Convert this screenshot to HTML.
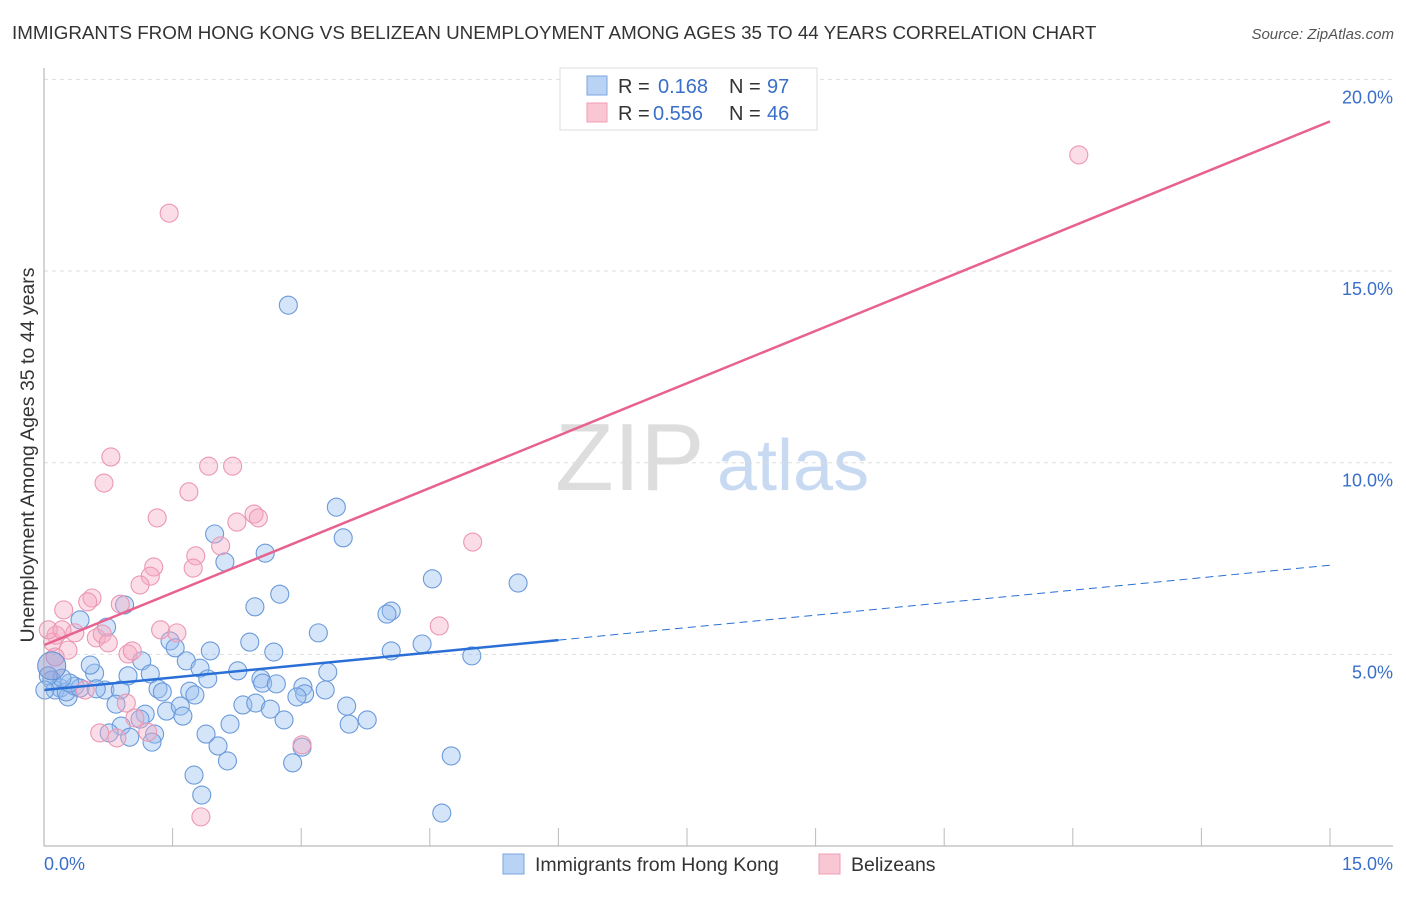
<!DOCTYPE html>
<html><head><meta charset="utf-8"><style>
body{margin:0;background:#fff;font-family:"Liberation Sans",sans-serif}
svg text{font-family:"Liberation Sans",sans-serif}
</style></head><body>
<svg id="c" width="1406" height="892" xmlns="http://www.w3.org/2000/svg">
<text x="12" y="39" font-size="18.8" fill="#333">IMMIGRANTS FROM HONG KONG VS BELIZEAN UNEMPLOYMENT AMONG AGES 35 TO 44 YEARS CORRELATION CHART</text>
<text x="1394" y="39" font-size="15" fill="#555" font-style="italic" text-anchor="end">Source: ZipAtlas.com</text>
<g><text x="555" y="490" font-size="96" fill="#ddd" font-family="Liberation Serif,serif">ZIP</text><text x="717" y="490" font-size="72" fill="#c8daf2">atlas</text></g>
<g id="grid"></g><g id="pts"></g><g id="lines"></g>
<line x1="44" y1="68" x2="44" y2="846" stroke="#aaa"/>
<line x1="44" y1="846" x2="1393" y2="846" stroke="#aaa"/>
<text transform="translate(34,455) rotate(-90)" font-size="19.5" fill="#333" text-anchor="middle">Unemployment Among Ages 35 to 44 years</text>
<text x="44" y="870" font-size="18" fill="#3a6fc9">0.0%</text>
<text x="1393" y="870" font-size="18" fill="#3a6fc9" text-anchor="end">15.0%</text>
<g>
<rect x="560" y="68" width="257" height="62" fill="#fff" stroke="#ddd"/>
<rect x="587" y="76" width="20" height="19" fill="#b9d3f5" stroke="#7aa6e0"/>
<rect x="587" y="103" width="20" height="19" fill="#f9c6d4" stroke="#ef9db5"/>
<text x="618" y="93" font-size="20" fill="#333">R =</text><text x="658" y="93" font-size="20" fill="#3a6fc9">0.168</text>
<text x="729" y="93" font-size="20" fill="#333">N =</text><text x="767" y="93" font-size="20" fill="#3a6fc9">97</text>
<text x="618" y="120" font-size="20" fill="#333">R =</text><text x="653" y="120" font-size="20" fill="#3a6fc9">0.556</text>
<text x="729" y="120" font-size="20" fill="#333">N =</text><text x="767" y="120" font-size="20" fill="#3a6fc9">46</text>
</g>
<g>
<rect x="503" y="854" width="21" height="20" fill="#b9d3f5" stroke="#7aa6e0"/>
<text x="535" y="871" font-size="19.5" fill="#333">Immigrants from Hong Kong</text>
<rect x="819" y="854" width="21" height="20" fill="#f9c6d4" stroke="#ef9db5"/>
<text x="851" y="871" font-size="19.5" fill="#333">Belizeans</text>
</g>
</svg>
<script>
const yTicks=[5,10,15,20];
const yTickLabels=["5.0%","10.0%","15.0%","20.0%"];
const xTicks=[0,1.5,3,4.5,6,7.5,9,10.5,12,13.5,15];
const blueX=[2.85,3.41,3.49,1.99,2.58,2.11,4.53,5.53,2.75,2.46,4.05,4.0,0.94,0.73,0.42,3.2,4.41,2.40,2.68,4.05,4.99,1.47,1.53,1.94,1.66,1.82,1.14,2.26,3.31,2.53,2.55,2.71,1.91,0.98,1.24,0.59,0.54,0.71,0.89,1.33,1.38,1.70,1.76,3.02,3.04,2.95,3.28,2.32,2.47,2.64,3.53,0.84,1.43,1.59,1.62,1.18,1.12,2.17,2.80,3.56,3.77,0.90,1.29,1.00,0.76,1.26,1.89,2.03,3.01,2.14,2.90,4.75,1.75,1.84,4.64,0.09,0.19,0.13,0.28,0.26,0.36,0.42,0.30,0.21,0.05,0.01,0.61];
const blueY=[14.11,8.84,8.04,8.14,7.64,7.41,6.97,6.86,6.57,6.24,6.13,6.05,6.29,5.71,5.9,5.56,5.27,5.32,5.06,5.09,4.96,5.35,5.17,5.09,4.83,4.64,4.83,4.57,4.54,4.36,4.25,4.23,4.36,4.44,4.49,4.51,4.72,4.07,4.07,4.1,4.02,4.04,3.94,4.15,3.97,3.89,4.07,3.68,3.73,3.57,3.65,3.70,3.52,3.65,3.39,3.44,3.31,3.18,3.29,3.18,3.29,3.13,2.92,2.84,2.95,2.71,2.92,2.61,2.58,2.22,2.17,2.35,1.85,1.33,0.86,4.33,4.12,4.07,3.89,4.02,4.17,4.12,4.25,4.38,4.44,4.07,4.1];
const pinkX=[12.07,1.46,0.78,1.92,2.20,0.70,1.69,1.32,2.45,2.50,2.25,2.06,5.0,1.77,1.74,1.28,1.24,1.12,0.56,0.51,0.23,0.89,4.61,1.36,1.55,0.61,0.68,0.75,0.36,0.14,0.10,0.05,0.21,0.28,0.13,0.98,1.03,0.48,0.96,1.06,1.21,0.65,0.85,3.01,1.83];
const pinkY=[18.03,16.51,10.15,9.91,9.91,9.47,9.24,8.56,8.66,8.56,8.45,7.83,7.93,7.57,7.25,7.28,7.04,6.81,6.47,6.37,6.16,6.31,5.74,5.64,5.56,5.43,5.53,5.30,5.56,5.50,5.32,5.64,5.64,5.11,4.93,5.01,5.09,4.07,3.73,3.34,2.97,2.95,2.82,2.64,0.76];
const blueTrend=[4.07,0.217];
const pinkTrend=[5.24,0.911];
const NS="http://www.w3.org/2000/svg";
const X=v=>44+v*(1286/15), Y=v=>846-v*38.33;
function mk(t,a,p){const e=document.createElementNS(NS,t);for(const k in a)e.setAttribute(k,a[k]);document.getElementById(p).appendChild(e);return e;}
yTicks.forEach((t,i)=>{
 const l=mk('line',{x1:44,x2:1393,y1:Y(t),y2:Y(t),stroke:'#ddd','stroke-dasharray':'4,4'},'grid');
 
 
 const tx=mk('text',{x:1393,y:Y(t)+24,'font-size':18,fill:'#3a6fc9','text-anchor':'end'},'grid');
 tx.textContent=yTickLabels[i];
 
 
});
xTicks.forEach(t=>{
 const l=mk('line',{x1:X(t),x2:X(t),y1:828,y2:846,stroke:'#bbb'},'grid');
 
 
});
blueX.forEach((v,i)=>{
 const c=mk('circle',{cx:X(v),cy:Y(blueY[i]),r:9,fill:'rgba(150,190,240,0.4)',stroke:'#6b9ada','stroke-width':1.1},'pts');
 
 
});
pinkX.forEach((v,i)=>{
 const c=mk('circle',{cx:X(v),cy:Y(pinkY[i]),r:9,fill:'rgba(245,170,195,0.4)',stroke:'#ec97b2','stroke-width':1.1},'pts');
 
 
});
const big=mk('circle',{cx:X(0.09),cy:Y(4.7),r:14,fill:'rgba(140,150,210,0.5)',stroke:'#5b8fd6'},'pts');


let l=mk('line',{x1:X(0),y1:Y(blueTrend[0]),x2:X(6),y2:Y(blueTrend[0]+6*blueTrend[1]),stroke:'#2a6fd6','stroke-width':2.5},'lines');


l=mk('line',{x1:X(6),y1:Y(blueTrend[0]+6*blueTrend[1]),x2:X(15),y2:Y(blueTrend[0]+15*blueTrend[1]),stroke:'#2a6fd6','stroke-width':1,'stroke-dasharray':'8,5'},'lines');


l=mk('line',{x1:X(0),y1:Y(pinkTrend[0]),x2:X(15),y2:Y(pinkTrend[0]+15*pinkTrend[1]),stroke:'#e8628f','stroke-width':2.5},'lines');


</script>
</body></html>
